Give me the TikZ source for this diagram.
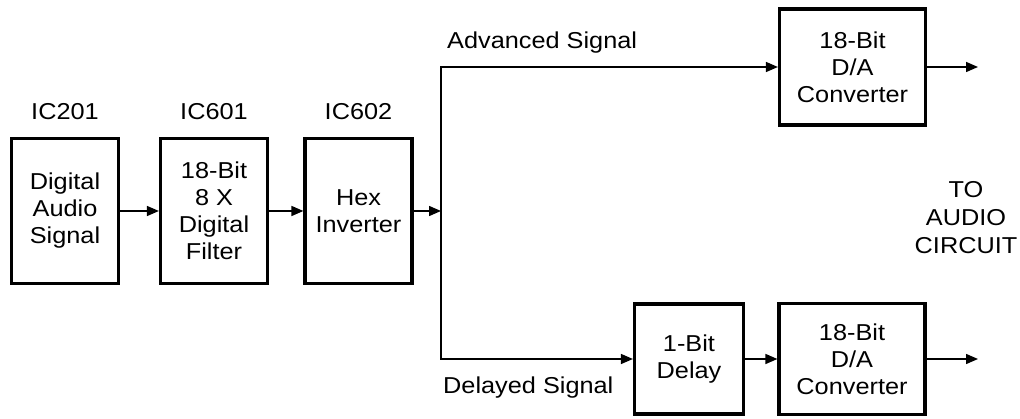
\documentclass[tikz,border=0pt]{standalone}
\usepackage{fontspec}
\setmainfont{Liberation Sans}[FakeStretch=1.1]
\usetikzlibrary{arrows.meta}

\begin{document}
\begin{tikzpicture}[x=1pt,y=1pt,yscale=-1,xscale=1,
  block/.style={draw,line width=3.2pt,align=center,inner sep=0pt,font=\fontsize{23}{27}\selectfont},
  icblock/.style={block,minimum width=107pt,minimum height=145pt},
  dablock/.style={block,minimum width=146pt,minimum height=116pt},
  txt/.style={inner sep=0pt,align=center,font=\fontsize{23}{28}\selectfont},
  conn/.style={line width=1.5pt,-{Triangle[length=12pt,width=10pt]}}]
\useasboundingbox (0,0) rectangle (1020,419);

%Shape: Rectangle
    \node [icblock] (dig) at (65,211) {Digital\\Audio\\Signal};
%Shape: Rectangle
    \node [icblock] (filt) at (214,211) {18-Bit\\8 X\\Digital\\Filter};
%Shape: Rectangle
    \node [icblock] (hex) at (358.5,211) {Hex\\Inverter};
%Shape: Rectangle
    \node [dablock] (daup) at (852.5,67) {18-Bit\\D/A\\Converter};
%Shape: Rectangle
    \node [block,minimum width=109pt,minimum height=110pt] (dly) at (689,359) {1-Bit\\Delay};
%Shape: Rectangle
    \node [dablock,minimum height=111pt] (dalo) at (852,359) {18-Bit\\D/A\\Converter};

    \coordinate (split) at (441,211);
    \coordinate (outup) at (978,67);
    \coordinate (outlo) at (978,359);

%Straight Lines
    \draw [conn] (dig) -- (filt);
    \draw [conn] (filt) -- (hex);
    \draw [conn] (hex) -- (split);
    \draw [conn] (split) |- (daup);
    \draw [conn] (split) |- (dly);
    \draw [conn] (dly) -- (dalo);
    \draw [conn] (daup) -- (outup);
    \draw [conn] (dalo) -- (outlo);

% Text Node
    \node [txt] (ic201) at (65,112) {IC201};
% Text Node
    \node [txt] (ic601) at (214,112) {IC601};
% Text Node
    \node [txt] (ic602) at (358.5,112) {IC602};
% Text Node
    \node [txt,anchor=west] (adv) at (447,43) {Advanced Signal};
% Text Node
    \node [txt,anchor=west] (del) at (443,388) {Delayed Signal};
% Text Node
    \node [txt] (toaud) at (966,218) {TO\\AUDIO\\CIRCUIT};

\end{tikzpicture}
\end{document}
